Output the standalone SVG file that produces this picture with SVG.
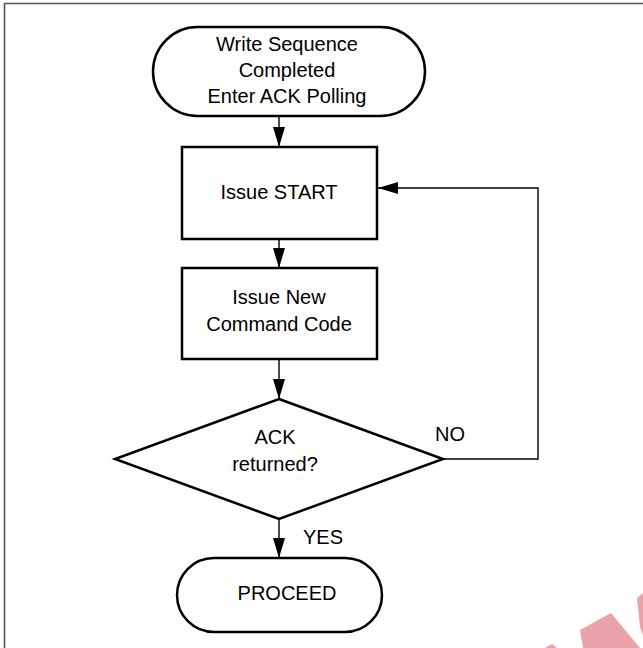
<svg xmlns="http://www.w3.org/2000/svg" width="643" height="648" viewBox="0 0 643 648">
<style>
.shape{fill:#fff;stroke:#000;stroke-width:2.5}
.conn{fill:none;stroke:#000;stroke-width:1.4}
text{font-family:"Liberation Sans",Arial,sans-serif;font-size:20px;fill:#000;text-anchor:middle}
.lbl{text-anchor:start}
</style>
<defs>
<marker id="arr" viewBox="0 0 20 12" refX="20" refY="6" markerWidth="20" markerHeight="12" markerUnits="userSpaceOnUse" orient="auto">
<path d="M0,0 L20,6 L0,12 Z" fill="#000"/>
</marker>
</defs>
<rect width="643" height="648" fill="#fff"/>
<g id="frame">
<path d="M4.5,648 V3.5 H643" fill="none" stroke="#555" stroke-width="1.6"/>
</g>
<g id="watermark" fill="#eaa3aa">
<polygon points="580,630 611,613 640,648 583,648"/>
<polygon points="637,598 643,593 643,635 640,627"/>
<polygon points="545,648 552,644 557,648"/>
</g>
<g id="connectors">
<line class="conn" x1="279" y1="117" x2="279" y2="147" marker-end="url(#arr)"/>
<line class="conn" x1="279" y1="239" x2="279" y2="268" marker-end="url(#arr)"/>
<line class="conn" x1="279" y1="359" x2="279" y2="399" marker-end="url(#arr)"/>
<line class="conn" x1="279" y1="519" x2="279" y2="558" marker-end="url(#arr)"/>
<polyline class="conn" points="443,459 538,459 538,188 378,188" marker-end="url(#arr)"/>
<text class="lbl" x="435" y="441">NO</text>
<text class="lbl" x="303" y="544">YES</text>
</g>
<g id="start">
<rect class="shape" x="153" y="27" width="272" height="89" rx="44.5" ry="44.5"/>
<text x="287" y="51">Write Sequence</text>
<text x="287" y="77">Completed</text>
<text x="287" y="103">Enter ACK Polling</text>
</g>
<g id="issue-start">
<rect class="shape" x="182" y="147" width="195" height="92"/>
<text x="279" y="199">Issue START</text>
</g>
<g id="issue-command">
<rect class="shape" x="182" y="268" width="195" height="91"/>
<text x="279" y="304">Issue New</text>
<text x="279" y="331">Command Code</text>
</g>
<g id="ack-decision">
<polygon class="shape" points="279,399 443,459 279,519 115,459"/>
<text x="275" y="444">ACK</text>
<text x="275" y="471">returned?</text>
</g>
<g id="proceed">
<rect class="shape" x="177" y="558" width="205" height="74" rx="37" ry="37"/>
<text x="287" y="600">PROCEED</text>
</g>
</svg>
